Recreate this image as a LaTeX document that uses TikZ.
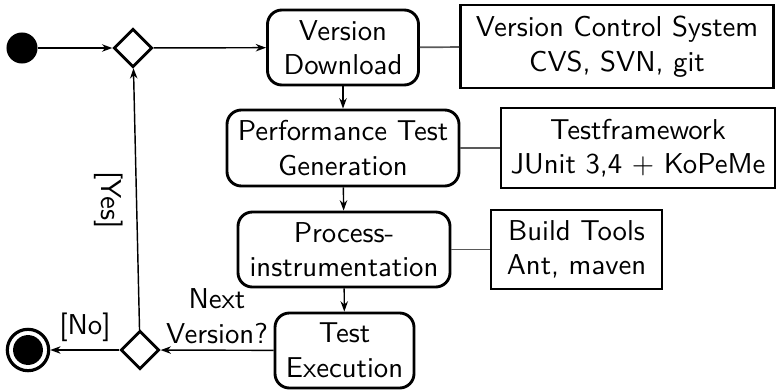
\documentclass[tikz,border=0pt]{standalone}
\usetikzlibrary{shapes.geometric,arrows.meta}
\begin{document}
\begin{tikzpicture}[x=0.348pt,y=-0.348pt,font=\sffamily,
  act/.style={draw,line width=1pt,rounded corners=5pt,align=center,inner sep=0pt},
  res/.style={draw,line width=1pt,align=center,inner sep=0pt},
  dec/.style={draw,diamond,line width=1pt,inner sep=0pt,minimum width=13.4pt,minimum height=13.4pt},
  flow/.style={line width=0.5pt,-{Stealth[length=3.6pt,width=2.6pt]}},
  link/.style={line width=0.6pt,draw=black!65},
  lbl/.style={inner sep=0pt,align=center}]
\useasboundingbox (0,0) rectangle (777,389);
\node[circle,fill=black,inner sep=0pt,minimum size=10.8pt] (start) at (22,48) {};
\node[dec] (d1) at (133,48) {};
\node[act,minimum width=151*0.348pt,minimum height=75*0.348pt] (vd) at (343,47.5) {Version\\Download};
\node[res,minimum width=313*0.348pt,minimum height=83*0.348pt] (vcs) at (617,46.5) {Version Control System\\CVS, SVN, git};
\node[act,minimum width=232*0.348pt,minimum height=76*0.348pt] (ptg) at (343,148) {Performance Test\\Generation};
\node[res,minimum width=274*0.348pt,minimum height=80*0.348pt] (tf) at (638,148) {Testframework\\JUnit 3,4 + KoPeMe};
\node[act,minimum width=212*0.348pt,minimum height=75*0.348pt] (pi) at (344,249.5) {Process-\\instrumentation};
\node[res,minimum width=171*0.348pt,minimum height=79*0.348pt] (bt) at (576.5,249.5) {Build Tools\\Ant, maven};
\node[act,minimum width=139*0.348pt,minimum height=75*0.348pt] (te) at (344.5,350.5) {Test\\Execution};
\node[dec] (d2) at (140,350) {};
\node[circle,draw,line width=1.1pt,inner sep=0pt,minimum size=14.4pt] (end) at (28,350) {};
\node[circle,fill=black,inner sep=0pt,minimum size=10.4pt] (endin) at (28,350) {};
\draw[flow] (start) -- (d1);
\draw[flow] (d1) -- (vd);
\draw[flow] (vd) -- (ptg);
\draw[flow] (ptg) -- (pi);
\draw[flow] (pi) -- (te);
\draw[flow] (te) -- (d2);
\draw[flow] (d2) -- (end);
\draw[flow] (d2) -- (d1);
\draw[link] (vd) -- (vcs);
\draw[link] (ptg) -- (tf);
\draw[link] (pi) -- (bt);
\node[lbl,rotate=-90] (yes) at (109,200) {[Yes]};
\node[lbl] (no) at (85,327) {[No]};
\node[lbl] (next) at (217,316) {Next\\Version?};
\end{tikzpicture}
\end{document}
